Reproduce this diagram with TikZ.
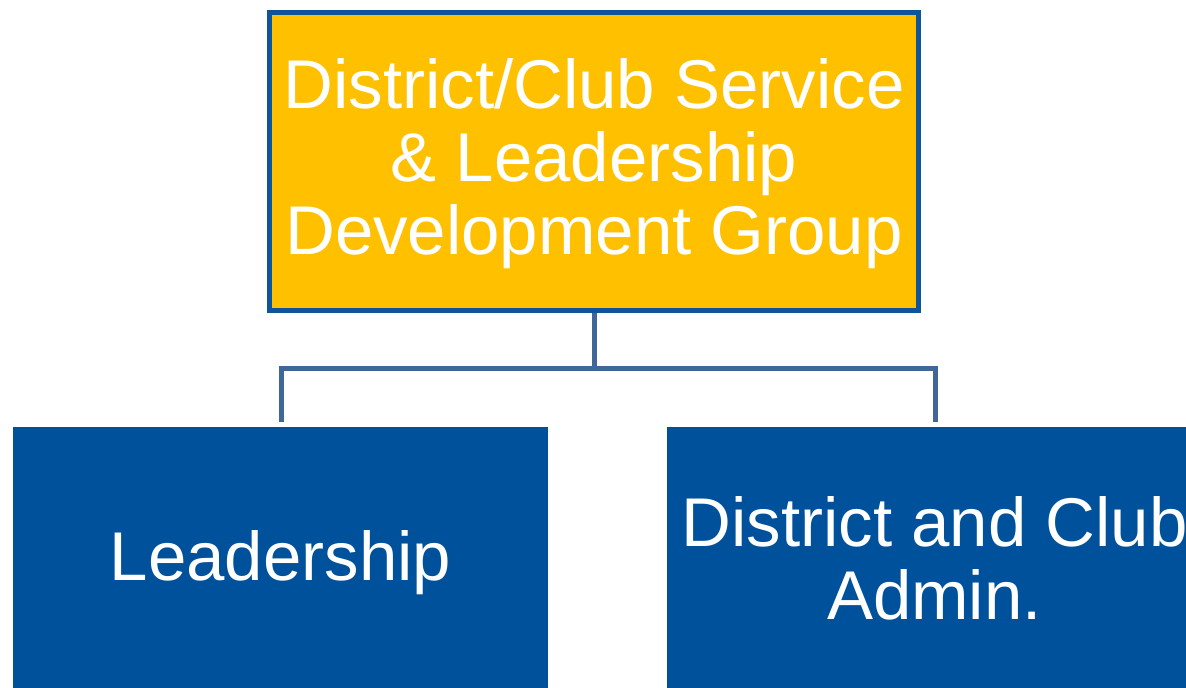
\documentclass[tikz,border=0pt]{standalone}
\usepackage{fontspec}
\setmainfont{Liberation Sans}
\definecolor{gold}{HTML}{FFC000}
\definecolor{darkedge}{HTML}{0F549A}
\definecolor{boxblue}{HTML}{00519B}
\definecolor{linkblue}{HTML}{3F6798}
\begin{document}
\begin{tikzpicture}[x=1pt,y=-1pt,
  topbox/.style={draw=darkedge,line width=5pt,fill=gold,minimum width=649pt,minimum height=298pt,inner sep=0pt,text=white,align=center,font=\fontsize{69}{73}\selectfont},
  subbox/.style={fill=boxblue,minimum width=535pt,minimum height=262pt,inner sep=0pt,text=white,align=center,font=\fontsize{69}{73}\selectfont},
  link/.style={draw=linkblue,line width=5pt}]
\useasboundingbox (0,0) rectangle (1186,688);
\node[topbox] (top) at (594,161.5) {\raisebox{-5pt}[\height][\depth]{\begin{tabular}{@{}c@{}}District/Club Service\\\& Leadership\\Development Group\end{tabular}}};
\node[subbox] (lead) at (280.5,558) {\raisebox{-5pt}[\height][\depth]{Leadership}};
\node[subbox] (admin) at (934.5,558) {District and Club\\Admin.};
\coordinate (hl) at (281,368);
\coordinate (hr) at (935,368);
\coordinate (mid) at (594,368);
\draw[link] (top.south -| mid) -- (mid);
\draw[link] ([yshift=5pt]hl |- lead.north) -- (hl) -- (hr) -- ([yshift=5pt]hr |- admin.north);
\end{tikzpicture}
\end{document}
